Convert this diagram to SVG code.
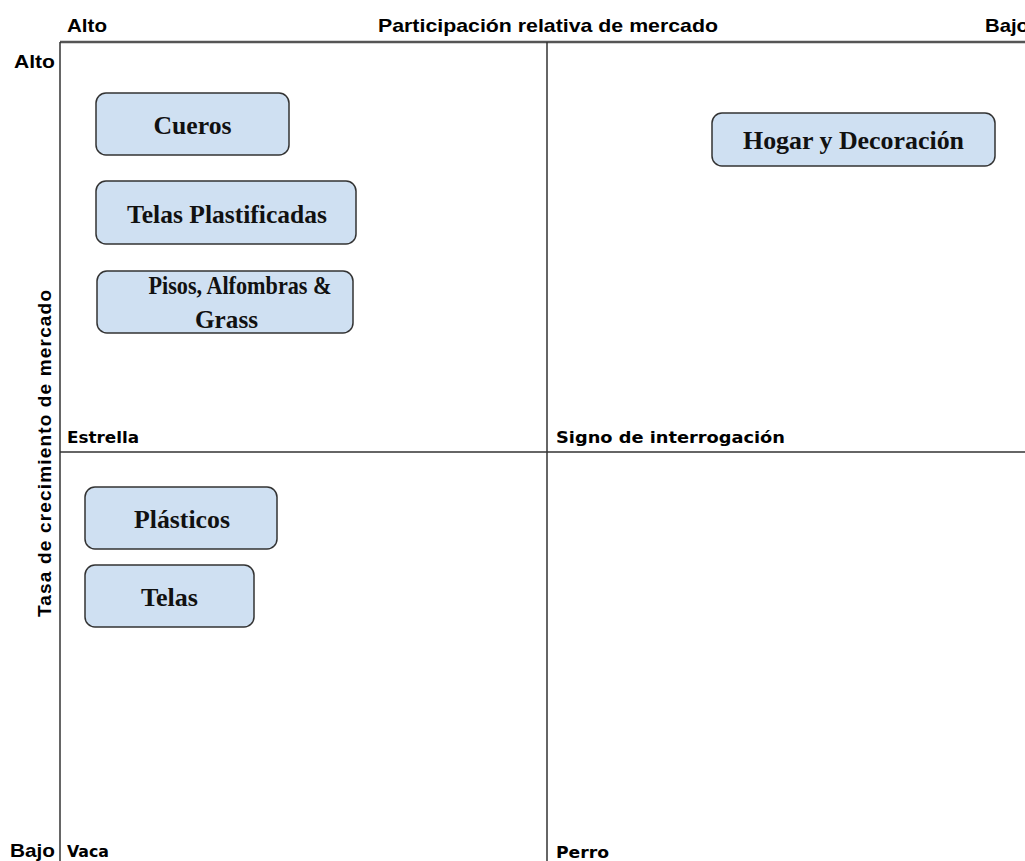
<svg xmlns="http://www.w3.org/2000/svg" width="1025" height="861" viewBox="0 0 1025 861">
<style>
.ax{font-family:"Liberation Sans",Arial,sans-serif;font-weight:bold;font-size:19px;fill:#000}
.q{font-family:"DejaVu Sans",Verdana,sans-serif;font-weight:bold;font-size:16px;fill:#000}
.box{fill:#cfe0f2;stroke:#333;stroke-width:1.5}
.bt{font-family:"Liberation Serif","Times New Roman",serif;font-weight:bold;font-size:25px;fill:#111;text-anchor:middle}
.ln{stroke:#333;stroke-width:1.5;fill:none}
</style>
<rect width="1025" height="861" fill="#fff"/>
<g id="grid">
<line x1="60" y1="42" x2="1025" y2="42" stroke="#555" stroke-width="2.5"/>
<line class="ln" x1="60" y1="42" x2="60" y2="861"/>
<line class="ln" x1="547" y1="42" x2="547" y2="861"/>
<line class="ln" x1="60" y1="452" x2="1025" y2="452"/>
</g>
<g id="labels">
<text class="ax" x="67" y="32" textLength="40" lengthAdjust="spacingAndGlyphs">Alto</text>
<text class="ax" x="378" y="32" textLength="340" lengthAdjust="spacingAndGlyphs">Participación relativa de mercado</text>
<text class="ax" x="985" y="32" textLength="44" lengthAdjust="spacingAndGlyphs">Bajo</text>
<text class="ax" x="14" y="68" textLength="41" lengthAdjust="spacingAndGlyphs">Alto</text>
<text class="ax" x="10" y="857" textLength="45" lengthAdjust="spacingAndGlyphs">Bajo</text>
<text class="ax" transform="translate(51,617) rotate(-90)" x="0" y="0" font-size="18" textLength="327" lengthAdjust="spacing">Tasa de crecimiento de mercado</text>
<text class="q" x="67" y="443" textLength="72" lengthAdjust="spacingAndGlyphs">Estrella</text>
<text class="q" x="556" y="443" textLength="229" lengthAdjust="spacingAndGlyphs">Signo de interrogación</text>
<text class="q" x="67" y="857" font-size="14" textLength="42" lengthAdjust="spacingAndGlyphs">Vaca</text>
<text class="q" x="556" y="858" textLength="53" lengthAdjust="spacingAndGlyphs">Perro</text>
</g>
<g id="cueros">
<rect class="box" x="96" y="93" width="193" height="62" rx="10"/>
<text class="bt" x="192.5" y="134" textLength="78" lengthAdjust="spacingAndGlyphs">Cueros</text>
</g>
<g id="telas-plastificadas">
<rect class="box" x="96" y="181" width="260" height="63" rx="10"/>
<text class="bt" x="227" y="223" textLength="200" lengthAdjust="spacingAndGlyphs">Telas Plastificadas</text>
</g>
<g id="pisos">
<rect class="box" x="97" y="271" width="256" height="62" rx="10"/>
<text class="bt" x="240" y="294" textLength="183" lengthAdjust="spacingAndGlyphs">Pisos, Alfombras &amp;</text>
<text class="bt" x="226.5" y="328" textLength="63" lengthAdjust="spacingAndGlyphs">Grass</text>
</g>
<g id="hogar">
<rect class="box" x="712" y="113" width="283" height="53" rx="10"/>
<text class="bt" x="853.5" y="149" textLength="221" lengthAdjust="spacingAndGlyphs">Hogar y Decoración</text>
</g>
<g id="plasticos">
<rect class="box" x="85" y="487" width="192" height="62" rx="10"/>
<text class="bt" x="182" y="528" textLength="96" lengthAdjust="spacingAndGlyphs">Plásticos</text>
</g>
<g id="telas">
<rect class="box" x="85" y="565" width="169" height="62" rx="10"/>
<text class="bt" x="169.5" y="606" textLength="57" lengthAdjust="spacingAndGlyphs">Telas</text>
</g>
<g id="connectors"></g>
</svg>
